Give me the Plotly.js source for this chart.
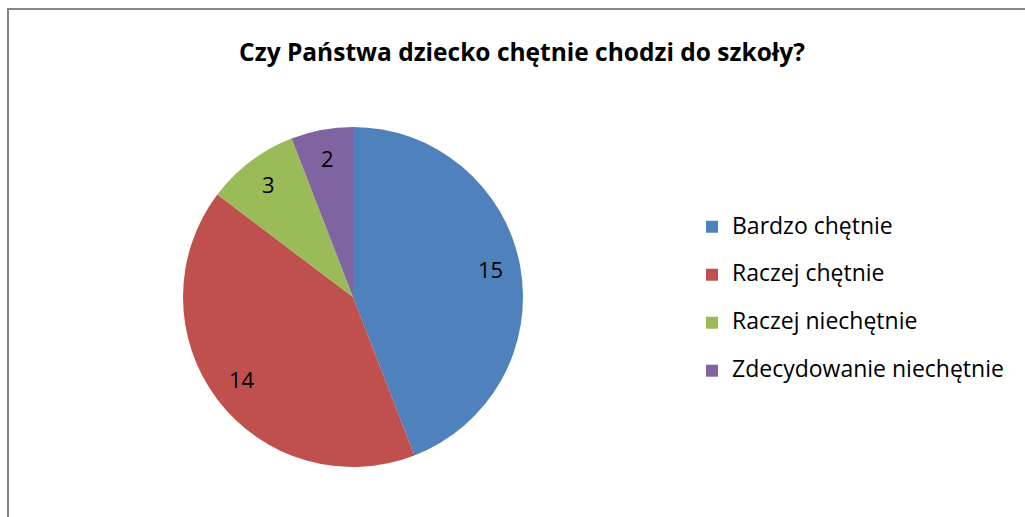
<!DOCTYPE html>
<html>
<head>
<meta charset="utf-8">
<script src="https://cdn.plot.ly/plotly-3.0.1.min.js"></script>
<style>
html,body{margin:0;padding:0;background:#fff;}
#chart{width:1025px;height:517px;}
</style>
</head>
<body>
<div id="chart"></div>
<script>
const categories = ["Bardzo chętnie", "Raczej chętnie", "Raczej niechętnie", "Zdecydowanie niechętnie"];
const values = [15, 14, 3, 2];
const colors = ["#4F81BD", "#C0504D", "#9BBB59", "#8064A2"];
const chartTitle = "Czy Państwa dziecko chętnie chodzi do szkoły?";

const W = 1025, H = 517;
const cx = 353, cy = 297, r = 170;
const FONT = "Open Sans, sans-serif";

// domain of the pie in paper coordinates
const dom = {x: [(cx - r) / W, (cx + r) / W], y: [(H - cy - r) / H, (H - cy + r) / H]};

const trace = {
  type: "pie",
  labels: categories.map(c => "<span style='font-size:23px'>" + c + "</span><br> "),
  values: values,
  sort: false,
  direction: "clockwise",
  rotation: 0,
  marker: {colors: colors, line: {width: 0}},
  textinfo: "none",
  domain: dom,
  hoverinfo: "value"
};

// data labels at 0.82 of the radius along each slice's mid-angle (derived from the values)
const total = values.reduce((a, b) => a + b, 0);
let cum = 0;
const annotations = values.map(v => {
  const mid = (cum + v / 2) / total * 2 * Math.PI;
  cum += v;
  const rx = r / W, ry = r / H, f = 0.82;
  return {
    xref: "paper", yref: "paper",
    x: (dom.x[0] + dom.x[1]) / 2 + f * rx * Math.sin(mid),
    y: (dom.y[0] + dom.y[1]) / 2 + f * ry * Math.cos(mid) + 2 / H,
    text: String(v), showarrow: false,
    xanchor: "center", yanchor: "middle",
    font: {family: FONT, size: 22, color: "#000"}
  };
});

const layout = {
  width: W, height: H,
  margin: {l: 0, r: 0, t: 0, b: 0},
  paper_bgcolor: "#fff",
  font: {family: FONT, color: "#000"},
  title: {
    text: "<b>" + chartTitle + "</b>",
    font: {family: FONT, size: 24.5, color: "#000"},
    x: 522 / W, xanchor: "center", y: 1 - 52 / H, yanchor: "middle"
  },
  showlegend: true,
  legend: {
    x: 692 / W, xanchor: "left", y: 1 - 209 / H, yanchor: "top",
    font: {family: FONT, size: 17.3, color: "#000"},
    valign: "top", itemwidth: 30, bgcolor: "rgba(0,0,0,0)"
  },
  annotations: annotations,
  shapes: [{
    type: "rect", xref: "paper", yref: "paper",
    x0: 8 / W, x1: 1.02, y0: -0.02, y1: 1 - 9 / H,
    line: {color: "#868686", width: 2}, fillcolor: "rgba(0,0,0,0)"
  }]
};

Plotly.newPlot("chart", [trace], layout, {displayModeBar: false, staticPlot: true});
</script>
</body>
</html>
